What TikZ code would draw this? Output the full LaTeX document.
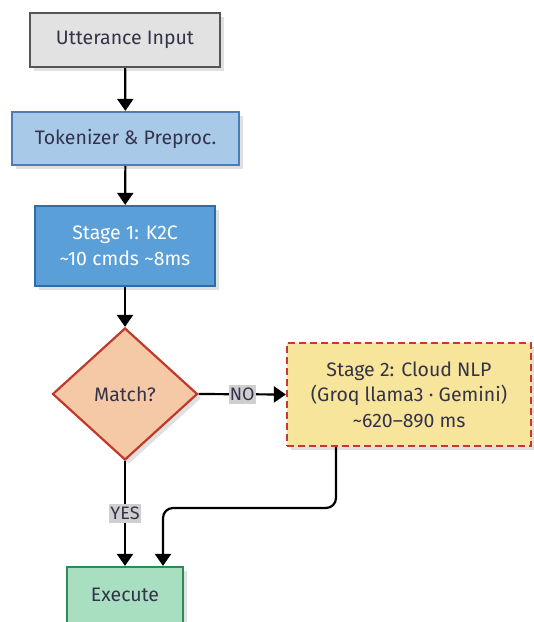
\documentclass[tikz,border=0pt]{standalone}
\usepackage{fontspec}
\setmainfont{Fira Sans}
\usetikzlibrary{shapes.geometric,arrows.meta,shadows,positioning}
\definecolor{txt}{HTML}{33334A}
\definecolor{grayfill}{HTML}{E2E2E2}
\definecolor{graydraw}{HTML}{555555}
\definecolor{tokfill}{HTML}{A9C9E9}
\definecolor{tokdraw}{HTML}{4A7DB8}
\definecolor{s1fill}{HTML}{5A9FD8}
\definecolor{s1draw}{HTML}{2E6DAA}
\definecolor{dfill}{HTML}{F5C9A6}
\definecolor{ddraw}{HTML}{C0392B}
\definecolor{s2fill}{HTML}{F8E59C}
\definecolor{s2draw}{HTML}{C8392B}
\definecolor{exfill}{HTML}{A9DFC1}
\definecolor{exdraw}{HTML}{2E8B57}
\definecolor{lblfill}{HTML}{CFCFCF}
\begin{document}
\begin{tikzpicture}[x=1pt,y=-1pt,
  font=\fontsize{19.5}{25.5}\selectfont,
  shad/.style={drop shadow={shadow xshift=4pt,shadow yshift=-4pt,fill=black!12,opacity=1}},
  boxbase/.style={rectangle,line width=2.2pt,align=center,text=txt,inner sep=0pt,shad},
  conn/.style={line width=2.2pt,-{Triangle[length=12pt,width=16pt]}},
  lbl/.style={fill=lblfill,text=txt,inner xsep=1pt,inner ysep=3pt,font=\fontsize{18}{20}\selectfont}]
\useasboundingbox (0,0) rectangle (534,622);
\node[boxbase,fill=grayfill,draw=graydraw,minimum width=190pt,minimum height=54pt] (ui) at (125,40) {Utterance Input};
\node[boxbase,fill=tokfill,draw=tokdraw,minimum width=227pt,minimum height=53pt] (tok) at (125.5,138.5) {Tokenizer \& Preproc.};
\node[boxbase,fill=s1fill,draw=s1draw,text=white,minimum width=180pt,minimum height=80pt] (s1) at (125,246) {Stage 1: K2C\\\textasciitilde10 cmds \textasciitilde8ms};
\node[diamond,aspect=1.1,line width=2.2pt,fill=dfill,draw=ddraw,text=txt,minimum width=145pt,minimum height=132pt,inner sep=0pt,shad] (m) at (125,394) {Match?};
\node[boxbase,fill=s2fill,draw=s2draw,dash pattern=on 7pt off 4pt,minimum width=244pt,minimum height=103pt] (s2) at (409,394.5) {Stage 2: Cloud NLP\\(Groq llama3 · Gemini)\\\textasciitilde620–890 ms};
\node[boxbase,fill=exfill,draw=exdraw,minimum width=116pt,minimum height=56pt] (ex) at (125,595) {Execute};
\draw[conn] (ui) -- (tok);
\draw[conn] (tok) -- (s1);
\draw[conn] (s1) -- (m);
\draw[conn] (m.east) -- node[lbl,pos=0.5] {NO} (s2.west);
\draw[conn] (m.south) -- node[lbl,pos=0.5] {YES} (ex.north);
\coordinate (c1) at (336,508);
\coordinate (c2) at (163,508);
\draw[conn,rounded corners=10pt] (s2.south -| c1) -- (c1) -- (c2) -- (ex.north -| c2);
\end{tikzpicture}
\end{document}
